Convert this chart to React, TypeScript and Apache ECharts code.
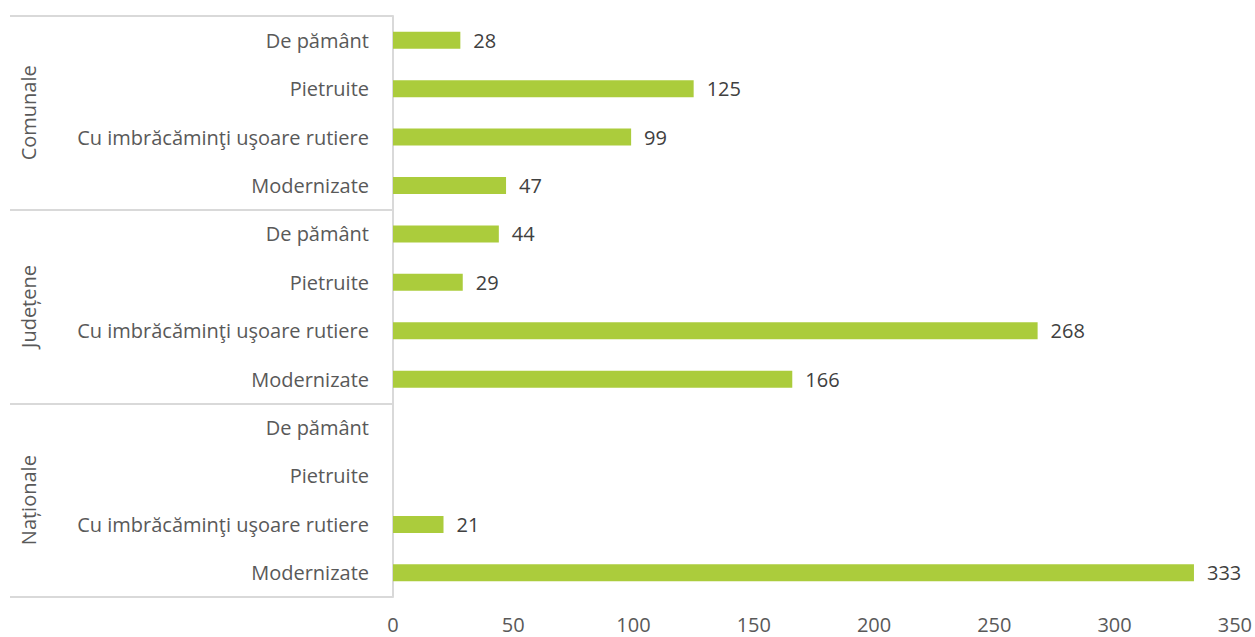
import React, { useEffect, useRef } from "react";
import * as echarts from "echarts";

const groups = ["Comunale", "Județene", "Naționale"];
const types = ["De pământ", "Pietruite", "Cu imbrăcăminţi uşoare rutiere", "Modernizate"];
const comunale = [28, 125, 99, 47];
const judetene = [44, 29, 268, 166];
const nationale: (number | null)[] = [null, null, 21, 333];
const xTicks = { min: 0, max: 350, interval: 50 };

const categories = [...types, ...types, ...types];
const values = [...comunale, ...judetene, ...nationale];

const FONT = "'Open Sans', 'Noto Sans', sans-serif";

export default function App() {
  const ref = useRef<HTMLDivElement>(null);
  useEffect(() => {
    if (!ref.current) return;
    const chart = echarts.init(ref.current, null, { renderer: "svg" });
    chart.setOption({
      animation: false,
      grid: { left: 393, right: 20, top: 16, bottom: 40, containLabel: false },
      xAxis: {
        type: "value",
        min: xTicks.min,
        max: xTicks.max,
        interval: xTicks.interval,
        axisLine: { show: false },
        axisTick: { show: false },
        splitLine: { show: false },
        axisLabel: { color: "#595959", fontSize: 20, fontFamily: FONT, margin: 16, lineHeight: 22 },
      },
      yAxis: [
        {
          type: "category",
          data: categories,
          inverse: true,
          axisLine: { show: true, lineStyle: { color: "#d9d9d9", width: 2 } },
          axisTick: { show: false },
          axisLabel: { color: "#595959", fontSize: 20, fontFamily: FONT, margin: 24 },
        },
        {
          type: "category",
          data: groups,
          inverse: true,
          position: "left",
          offset: 383,
          axisLine: { show: false },
          axisTick: { show: true, inside: true, length: 383, lineStyle: { color: "#d9d9d9", width: 2 } },
          axisLabel: {
            color: "#595959",
            fontSize: 20,
            fontFamily: FONT,
            rotate: 90,
            inside: true,
            margin: 8,
          },
        },
      ],
      series: [
        {
          type: "bar",
          data: values,
          yAxisIndex: 0,
          barWidth: 17,
          itemStyle: { color: "#abcc3c" },
          label: {
            show: true,
            position: "right",
            distance: 13,
            color: "#404040",
            fontSize: 20,
            fontFamily: FONT,
          },
        },
      ],
    });
    return () => chart.dispose();
  }, []);
  return <div ref={ref} style={{ width: 1255, height: 637, position: "absolute", left: 0, top: 0 }} />;
}
